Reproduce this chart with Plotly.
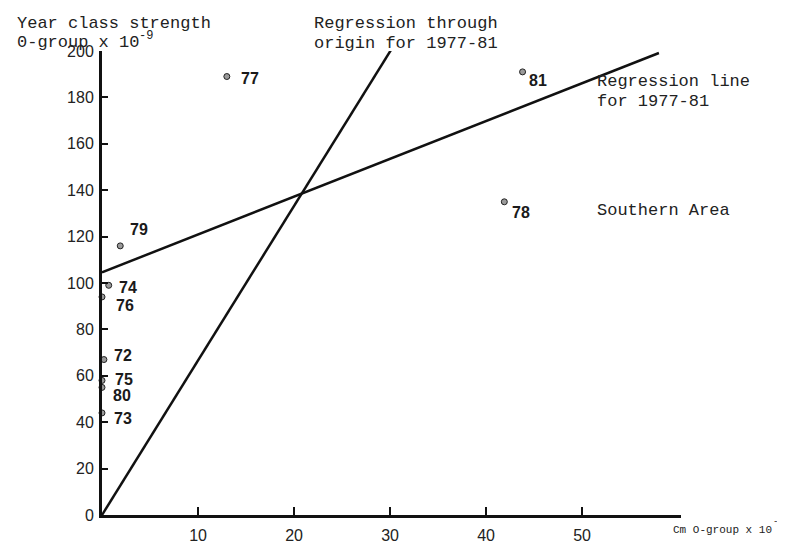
import plotly.graph_objects as go

# ---- data ----
years = ["77", "81", "78", "79", "74", "76", "72", "75", "80", "73"]
cm_ogroup = [13.0, 43.8, 41.9, 1.9, 0.7, 0.0, 0.2, 0.0, 0.0, 0.0]
year_class = [189, 191, 135, 116, 99, 94, 67, 58, 55, 44]

reg_intercept = 104.6          # regression line for 1977-81
reg_slope = 1.63
reg_x = [0, 58]

origin_slope = 6.66            # regression through origin for 1977-81
origin_x = [0, 30.4]

x_ticks = [10, 20, 30, 40, 50]
y_ticks = [0, 20, 40, 60, 80, 100, 120, 140, 160, 180, 200]

# ---- styling ----
W, H = 785, 548
L, R, T, B = 94, 112, 43, 25
PW, PH = W - L - R, H - T - B
INK = "#111111"
MONO = "Liberation Mono, Courier New, monospace"
SANS = "Liberation Sans, Arial, sans-serif"

label_shift = {
    "77": (12, -2), "81": (4, -9), "78": (6, -11), "79": (8, 16),
    "74": (8, -2), "76": (12, -9), "72": (8, 4), "75": (11, 1),
    "80": (9, -8), "73": (10, -6),
}


def px(xp, yp):
    return (xp - L) / PW, (H - B - yp) / PH


fig = go.Figure()

fig.add_trace(go.Scatter(
    x=reg_x, y=[reg_intercept + reg_slope * v for v in reg_x],
    mode="lines", line=dict(color=INK, width=2.5), showlegend=False,
))
fig.add_trace(go.Scatter(
    x=origin_x, y=[origin_slope * v for v in origin_x],
    mode="lines", line=dict(color=INK, width=2.5), showlegend=False,
))
fig.add_trace(go.Scatter(
    x=cm_ogroup, y=year_class, mode="markers", cliponaxis=False,
    marker=dict(symbol="circle", size=6, color="#9a9a9a",
                line=dict(color="#222222", width=1)),
    showlegend=False,
))

for yr, xv, yv in zip(years, cm_ogroup, year_class):
    dx, dy = label_shift[yr]
    fig.add_annotation(x=xv, y=yv, xref="x", yref="y", text=yr,
                       showarrow=False, xanchor="left", yanchor="middle",
                       xshift=dx, yshift=dy,
                       font=dict(family=SANS, size=16, color="#1a1a1a", weight="bold"))

texts = [
    ("Year class strength", 8, 15, 17, "left"),
    ("0-group x 10", 8, 34, 17, "left"),
    ("-9", 130, 27, 12, "left"),
    ("Regression through", 305, 15, 17, "left"),
    ("origin for 1977-81", 305, 35, 17, "left"),
    ("Regression line", 588, 75, 17, "left"),
    ("for 1977-81", 588, 95, 17, "left"),
    ("Southern Area", 588, 208, 17, "left"),
    ("Cm O-group x 10", 765, 538, 11, "right"),
    ("-9", 764, 530, 9, "left"),
]
for t, xp, yp, fs, anc in texts:
    xx, yy = px(xp, yp)
    fig.add_annotation(x=xx, y=yy, xref="paper", yref="paper", text=t,
                       showarrow=False, xanchor=anc, yanchor="middle",
                       borderpad=0,
                       font=dict(family=MONO, size=fs, color="#222222"))

fig.update_layout(
    width=W, height=H,
    margin=dict(l=L, r=R, t=T, b=B, pad=0),
    paper_bgcolor="white", plot_bgcolor="white",
    xaxis=dict(range=[0, 60.3], tickvals=x_ticks, ticks="inside", ticklen=8,
               tickwidth=1.5, tickcolor=INK, showline=True, linewidth=3,
               linecolor=INK, showgrid=False, zeroline=False,
               tickfont=dict(family=SANS, size=16, color="#222222"),
               ticklabelstandoff=4),
    yaxis=dict(range=[0, 200], tickvals=y_ticks, ticks="inside", ticklen=6,
               tickwidth=1.5, tickcolor=INK, showline=True, linewidth=3,
               linecolor=INK, showgrid=False, zeroline=False,
               tickfont=dict(family=SANS, size=16, color="#222222"),
               ticklabelstandoff=2),
)

fig.write_html("out.html")
